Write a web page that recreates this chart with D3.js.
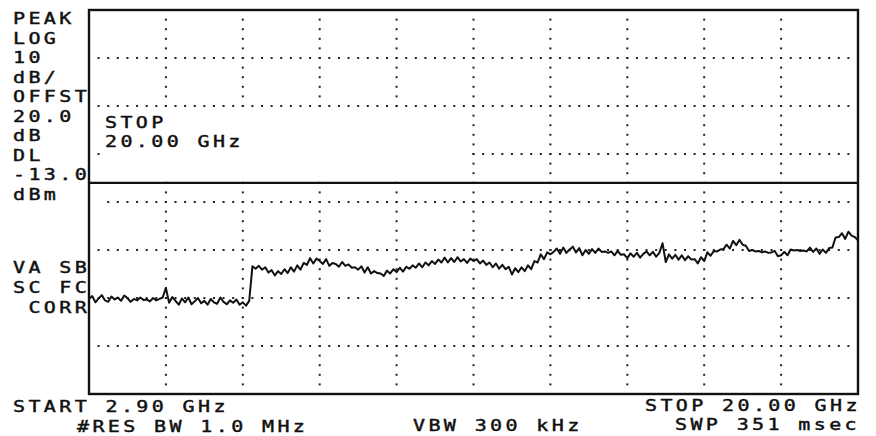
<!DOCTYPE html>
<html>
<head>
<meta charset="utf-8">
<script src="https://cdn.jsdelivr.net/npm/d3@7"></script>
<style>
  html, body { margin: 0; padding: 0; background: #fff; }
  svg { display: block; }
  text { white-space: pre; }
</style>
</head>
<body>
<div id="screen"></div>
<script>
// sweep settings
const sweepGHz = [2.90, 20.00];
const levelDbm = [-57, 23];          // bottom / top of graticule, 10 dB/div
const displayLineDbm = -13;

const leftLabels = ["PEAK", "LOG", "10", "dB/", "OFFST", "20.0", "dB", "DL", "-13.0", "dBm"];
const lowerLabels = ["VA SB", "SC FC", " CORR"];
const markerLabels = ["STOP", "20.00 GHz"];
const footerLabels = ["START 2.90 GHz", "#RES BW 1.0 MHz", "VBW 300 kHz", "STOP 20.00 GHz", "SWP 351 msec"];

// trace level in dBm, equally spaced points across the sweep
const traceDbm = [
  -37.2, -36.6, -37.9, -37.1, -36.4, -37.5, -37.8, -36.7, -37.3, -36.9,
  -37.6, -36.5, -37.0, -37.8, -37.2, -37.5, -36.9, -37.4, -37.3, -37.7,
  -37.0, -37.5, -37.2, -36.9, -34.9, -38.0, -36.8, -37.6, -38.4, -37.1,
  -37.9, -36.9, -38.3, -37.7, -37.0, -38.1, -37.6, -38.4, -37.2, -37.9,
  -38.2, -36.9, -37.8, -38.3, -37.5, -38.0, -37.3, -38.4, -37.9, -38.6,
  -37.6, -30.4, -30.9, -30.3, -31.1, -30.6, -31.7, -31.2, -32.3, -31.4,
  -32.0, -31.0, -31.8, -30.6, -31.5, -30.2, -31.1, -29.7, -30.1, -28.7,
  -29.8, -28.8, -29.3, -29.9, -28.9, -30.3, -29.7, -29.9, -30.5, -29.5,
  -30.3, -30.0, -30.7, -30.6, -31.1, -30.4, -31.7, -30.6, -31.9, -31.4,
  -31.8, -31.9, -32.4, -31.3, -31.9, -31.0, -31.6, -30.7, -31.5, -30.5,
  -30.9, -30.2, -30.7, -29.8, -30.6, -29.6, -30.2, -29.3, -29.9, -29.0,
  -29.6, -28.6, -29.6, -28.7, -29.5, -28.5, -29.4, -28.9, -29.7, -28.8,
  -29.3, -28.9, -29.8, -29.2, -30.1, -29.6, -30.6, -29.8, -30.9, -30.1,
  -31.0, -30.5, -32.1, -30.8, -31.6, -30.6, -31.4, -30.2, -31.0, -29.3,
  -29.6, -27.9, -28.9, -27.5, -27.9, -27.4, -26.7, -27.8, -26.5, -27.6,
  -26.9, -26.3, -27.5, -26.6, -28.1, -27.0, -27.8, -26.8, -27.6, -26.7,
  -27.4, -27.3, -27.6, -27.3, -28.1, -27.2, -28.0, -27.9, -28.7, -27.7,
  -28.4, -27.6, -28.6, -27.8, -27.3, -28.1, -27.4, -28.4, -27.6, -25.6,
  -29.5, -27.9, -28.8, -28.0, -29.0, -28.1, -29.1, -28.3, -29.0, -28.9,
  -29.8, -28.5, -29.3, -27.5, -28.2, -27.2, -27.3, -26.9, -26.8, -25.9,
  -26.7, -25.1, -26.0, -24.9, -25.9, -26.1, -27.2, -27.0, -27.3, -27.2,
  -27.5, -27.3, -27.6, -27.5, -27.2, -28.3, -28.1, -27.4, -28.1, -26.9,
  -27.1, -27.0, -27.2, -27.1, -27.3, -26.5, -27.4, -26.7, -27.8, -26.9,
  -27.6, -26.6, -26.5, -24.4, -24.3, -23.5, -24.7, -23.2, -24.0, -24.3,
  -25.0
];

const width = 876, height = 436;
const box = { left: 89, right: 858, top: 10, bottom: 394 };
const stretch = 1.25;

const svg = d3.select("#screen").append("svg")
  .attr("width", width)
  .attr("height", height);

const x = d3.scaleLinear().domain(sweepGHz).range([box.left, box.right]);
const y = d3.scaleLinear().domain(levelDbm).range([box.bottom, box.top]);

// 10 x 8 graticule counted from the reference level down
const xDivs = d3.range(1, 10).map(i => sweepGHz[0] + i * (sweepGHz[1] - sweepGHz[0]) / 10);
const yDivs = d3.range(1, 8).map(i => levelDbm[1] - i * 10);

// blank patch where the marker readout sits
const blank = (px, py) => px > 102 && px < 468 && py > 108 && py < 182;

const dotStepX = (box.right - box.left) / 80;
const dotStepY = (box.bottom - box.top) / 40;
const dots = [];

yDivs.forEach(v => {
  const py = y(v);
  const first = py > 190 && py < 210 ? 2 : 1;
  for (let k = first; k < 80; k++) {
    const px = box.left + k * dotStepX;
    if (!blank(px, py)) dots.push([px, py]);
  }
});
xDivs.forEach(f => {
  const px = x(f);
  for (let k = 1; k < 40; k++) {
    const py = box.top + k * dotStepY;
    if (!blank(px, py)) dots.push([px, py]);
  }
});

svg.append("g")
  .selectAll("rect")
  .data(dots)
  .join("rect")
  .attr("x", d => d[0] - 1)
  .attr("y", d => d[1] - 1)
  .attr("width", 2)
  .attr("height", 2)
  .attr("fill", "#222");

// frame and display line
svg.append("rect")
  .attr("x", box.left)
  .attr("y", box.top)
  .attr("width", box.right - box.left)
  .attr("height", box.bottom - box.top)
  .attr("fill", "none")
  .attr("stroke", "#111")
  .attr("stroke-width", 2.4);

svg.append("line")
  .attr("x1", box.left)
  .attr("x2", box.right)
  .attr("y1", y(displayLineDbm))
  .attr("y2", y(displayLineDbm))
  .attr("stroke", "#111")
  .attr("stroke-width", 2.2);

// trace
const idx = d3.scaleLinear().domain([0, traceDbm.length - 1]).range(sweepGHz);
const line = d3.line()
  .x((d, i) => x(idx(i)))
  .y(d => y(d));

svg.append("path")
  .datum(traceDbm)
  .attr("d", line)
  .attr("fill", "none")
  .attr("stroke", "#111")
  .attr("stroke-width", 2)
  .attr("stroke-linejoin", "round");

const label = (str, px, py) => {
  svg.append("text")
    .attr("transform", `translate(${px},${py}) scale(${stretch},1)`)
    .attr("font-family", "DejaVu Sans Mono, monospace")
    .attr("font-size", 16)
    .attr("letter-spacing", 2.7)
    .attr("fill", "#111")
    .attr("stroke", "#111")
    .attr("stroke-width", 0.45)
    .text(str);
};

leftLabels.forEach((s, i) => label(s, 13, 24 + i * 19.5));
lowerLabels.forEach((s, i) => label(s, 13, 273 + i * 19.8));
markerLabels.forEach((s, i) => label(s, 105, 128 + i * 19));

label(footerLabels[0], 13, 412);
label(footerLabels[1], 77, 432);
label(footerLabels[2], 413, 431);
label(footerLabels[3], 645, 411);
label(footerLabels[4], 675, 430);
</script>
</body>
</html>
